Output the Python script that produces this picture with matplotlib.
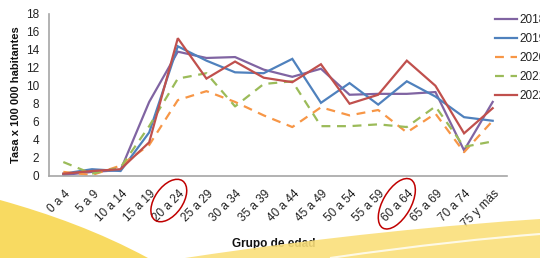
import matplotlib
matplotlib.use("Agg")
import matplotlib.pyplot as plt
from matplotlib.patches import Ellipse, PathPatch
from matplotlib.path import Path
from matplotlib.transforms import Affine2D, ScaledTranslation, blended_transform_factory

plt.rcParams["font.family"] = ["Liberation Sans", "DejaVu Sans"]

age_groups = ["0 a 4", "5 a 9", "10 a 14", "15 a 19", "20 a 24", "25 a 29",
              "30 a 34", "35 a 39", "40 a 44", "45 a 49", "50 a 54", "55 a 59",
              "60 a 64", "65 a 69", "70 a 74", "75 y más"]
years = ["2018", "2019", "2020", "2021", "2022"]

rate_2018 = [0.05, 0.4, 0.6, 8.2, 13.8, 13.1, 13.2, 11.8, 11.0, 11.9, 9.0, 9.1, 9.1, 9.3, 2.8, 8.2]
rate_2019 = [0.2, 0.7, 0.5, 4.8, 14.4, 12.8, 11.5, 11.4, 13.0, 8.1, 10.3, 7.9, 10.5, 8.8, 6.5, 6.1]
rate_2020 = [0.4, 0.05, 1.1, 3.4, 8.4, 9.4, 8.2, 6.7, 5.4, 7.6, 6.7, 7.3, 4.8, 6.9, 2.6, 6.1]
rate_2021 = [1.5, 0.2, 0.9, 5.5, 10.8, 11.4, 7.7, 10.2, 10.5, 5.5, 5.5, 5.7, 5.4, 7.7, 3.2, 3.8]
rate_2022 = [0.2, 0.5, 0.7, 3.7, 15.3, 10.8, 12.7, 10.9, 10.4, 12.4, 8.0, 9.0, 12.8, 10.0, 4.7, 7.5]

highlighted = ["20 a 24", "60 a 64"]

series = [rate_2018, rate_2019, rate_2020, rate_2021, rate_2022]
colors = ["#8064A2", "#4F81BD", "#F79646", "#9BBB59", "#C0504D"]
dashed = [False, False, True, True, False]

W, H = 540, 258
fig = plt.figure(figsize=(W / 100, H / 100), dpi=100)
fig.patch.set_facecolor("white")


def px(x, y):
    # pixel (top-left origin) -> figure fraction
    return (x / W, 1 - y / H)


# yellow background swooshes
swoosh_a = Path([px(0, 200), px(50, 214), px(100, 232), px(148, 258), px(0, 258), px(0, 200)],
                [Path.MOVETO, Path.CURVE4, Path.CURVE4, Path.CURVE4, Path.LINETO, Path.CLOSEPOLY])
swoosh_b = Path([px(185, 258), px(330, 236), px(450, 225), px(540, 219), px(540, 258), px(185, 258)],
                [Path.MOVETO, Path.CURVE4, Path.CURVE4, Path.CURVE4, Path.LINETO, Path.CLOSEPOLY])
fig.patches.append(PathPatch(swoosh_a, transform=fig.transFigure, facecolor="#F8D650",
                             edgecolor="none", alpha=0.9, zorder=0))
fig.patches.append(PathPatch(swoosh_b, transform=fig.transFigure, facecolor="#FADF7A",
                             edgecolor="none", alpha=0.9, zorder=0))
streak = Path([px(330, 258), px(420, 245), px(490, 238), px(540, 234)],
              [Path.MOVETO, Path.CURVE4, Path.CURVE4, Path.CURVE4])
fig.patches.append(PathPatch(streak, transform=fig.transFigure, facecolor="none",
                             edgecolor="white", lw=1.5, alpha=0.8, zorder=0))

ax = fig.add_axes([49 / W, 1 - 175.5 / H, 458 / W, 161.5 / H])
ax.set_facecolor("none")

x = list(range(len(age_groups)))
handles = []
for yr, vals, c, d in zip(years, series, colors, dashed):
    ln, = ax.plot(x, vals, color=c, lw=1.6, label=yr,
                  linestyle=(0, (4, 3)) if d else "-", solid_joinstyle="miter")
    handles.append(ln)

ax.set_xlim(-0.5, len(age_groups) - 0.5)
ax.set_ylim(0, 18)
ax.set_yticks(range(0, 19, 2))
ax.set_xticks(x)
ax.set_xticklabels(age_groups, rotation=45, ha="right", va="center",
                   rotation_mode="anchor")
ax.tick_params(axis="both", length=0, labelsize=8.5, colors="#222222")
ax.tick_params(axis="y", pad=7)
ax.tick_params(axis="x", pad=12)
shift = ScaledTranslation(0.05, 0, fig.dpi_scale_trans)
for lbl in ax.get_xticklabels():
    lbl.set_transform(lbl.get_transform() + shift)

for s in ["top", "right"]:
    ax.spines[s].set_visible(False)
for s in ["left", "bottom"]:
    ax.spines[s].set_color("#A6A6A6")
    ax.spines[s].set_linewidth(1.2)

ax.set_ylabel("Tasa x 100 000 habitantes", fontsize=8, fontweight="bold", color="#111111")
ax.yaxis.set_label_coords(-0.062, 0.5)
ax.set_xlabel("Grupo de edad", fontsize=8.5, fontweight="bold", color="#111111")
ax.xaxis.set_label_coords(0.49, -0.39)

# red ellipses around highlighted age groups
trans = blended_transform_factory(ax.transData, ax.transAxes)
for grp, (w, h, ang, dx, dy) in zip(highlighted, [(48, 28, 55, -9, -0.155),
                                                   (56, 28, 60, -10, -0.175)]):
    cx, cy = trans.transform((age_groups.index(grp), dy))
    e = Ellipse((0, 0), w, h, angle=ang, fill=False, edgecolor="#C00000", lw=1.1,
                transform=Affine2D().translate(cx + dx, cy), clip_on=False)
    fig.patches.append(e)

leg = fig.legend(handles=handles, loc="upper left", bbox_to_anchor=px(495, 14),
                 frameon=False, fontsize=8.5, handlelength=1.9, handletextpad=0.15,
                 labelspacing=0.6, borderpad=0, borderaxespad=0)
for t in leg.get_texts():
    t.set_color("#222222")

fig.savefig("out.png", dpi=100)
